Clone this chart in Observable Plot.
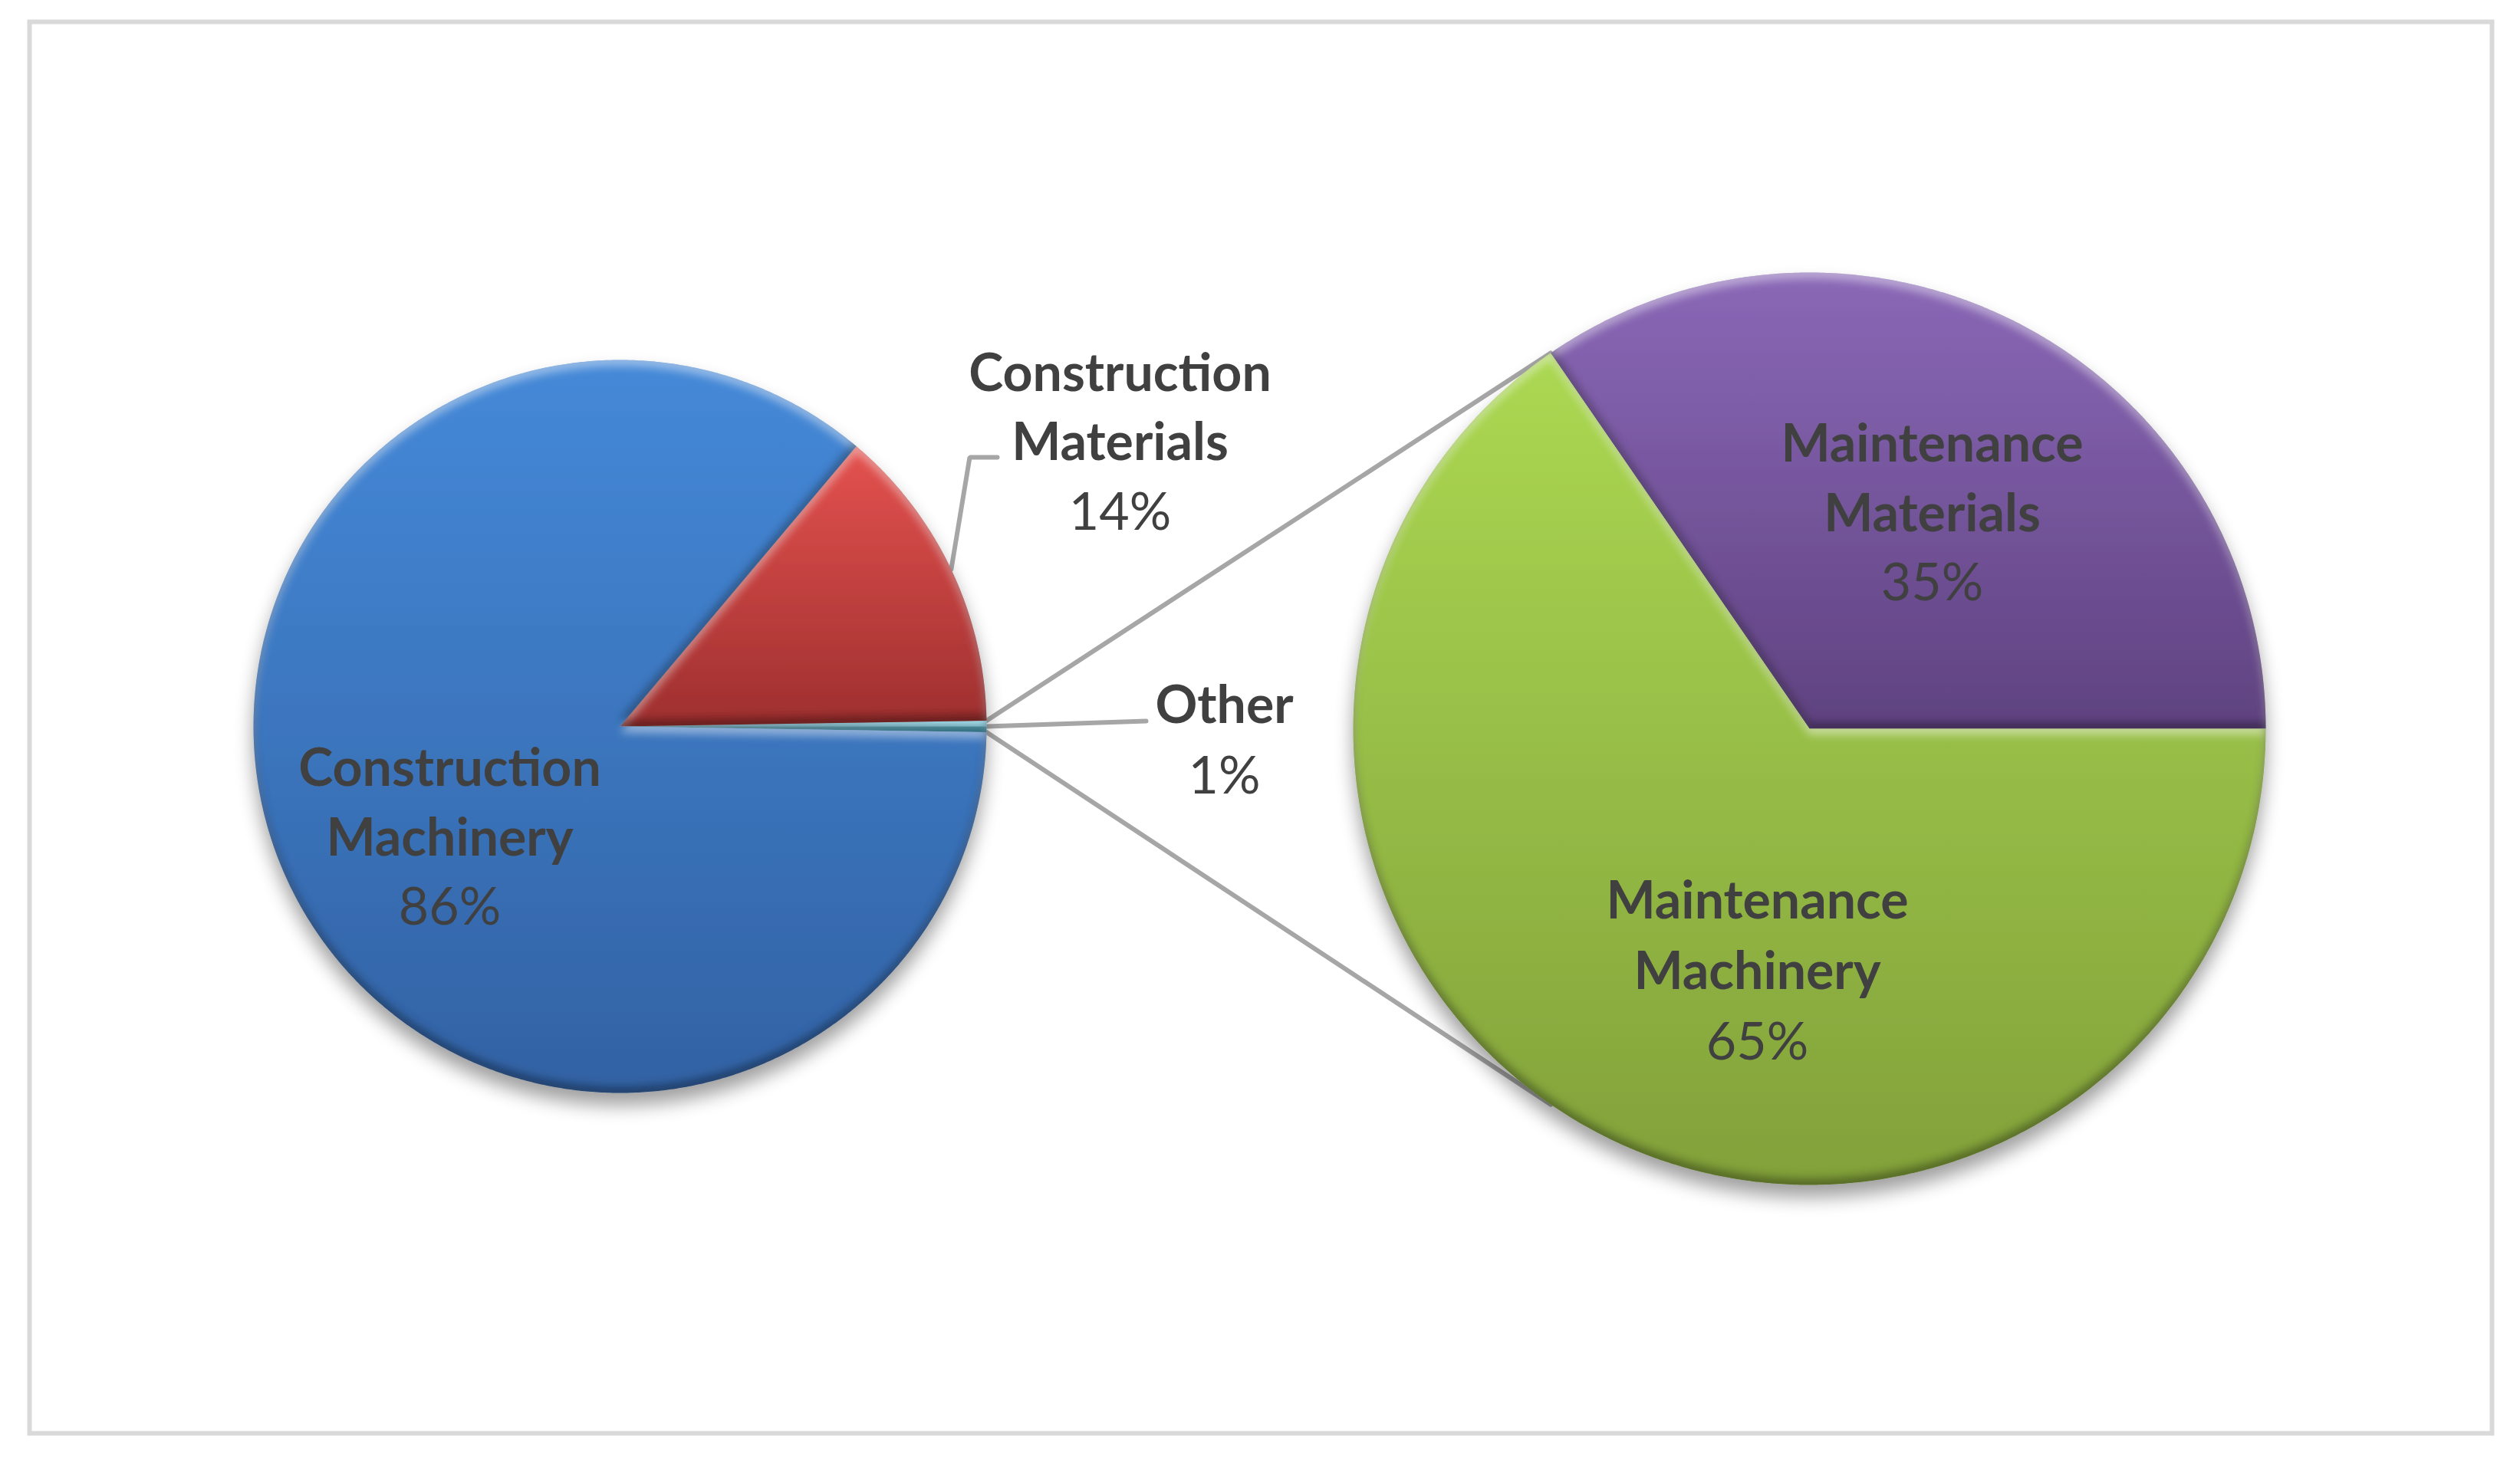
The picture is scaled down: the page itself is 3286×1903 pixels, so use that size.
<!DOCTYPE html>
<html>
<head>
<meta charset="utf-8">
<script src="https://cdn.jsdelivr.net/npm/d3@7"></script>
<script src="https://cdn.jsdelivr.net/npm/@observablehq/plot@0.6"></script>
<style>
  html, body { margin: 0; padding: 0; background: #ffffff; }
  #chart svg { display: block; }
</style>
</head>
<body>
<div id="chart"></div>
<script>
// ---------------- DATA ----------------
const primaryCategories = ["Construction Machinery", "Construction Materials", "Other"];
const primaryValues = [85.9, 13.6, 0.5];
const primaryLabels = ["86%", "14%", "1%"];
const secondaryCategories = ["Maintenance Materials", "Maintenance Machinery"];
const secondaryValues = [34.6, 65.4];
const secondaryLabels = ["35%", "65%"];

// ---------------- LAYOUT & STYLE ----------------
const W = 3286, H = 1903;
const M = {left: 38, right: 37, top: 28, bottom: 34};
const leftPie = {cx: 808, cy: 947, r: 478};
const rightPie = {cx: 2359, cy: 950, r: 595};
const baseColor = {
  "Construction Machinery": "#3e78c4",
  "Construction Materials": "#c43e3c",
  "Other": "#4bbcd8",
  "Maintenance Materials": "#7556a0",
  "Maintenance Machinery": "#98bf46"
};
const gradStops = {
  "Construction Machinery": ["#4589d8", "#3262a4"],
  "Construction Materials": ["#e4524f", "#9e2f2f"],
  "Other": ["#62d2ec", "#3aa3c2"],
  "Maintenance Materials": ["#8a68b7", "#5f4280"],
  "Maintenance Machinery": ["#abd852", "#82a13a"]
};
const gradId = name => "g-" + name.replace(/\s+/g, "-");
const labelLayout = {
  "Construction Machinery": {x: 586, y: [1024, 1115, 1205]},
  "Construction Materials": {x: 1460, y: [509, 599, 690]},
  "Other": {x: 1596, y: [942, 1034]},
  "Maintenance Materials": {x: 2519, y: [601, 692, 782]},
  "Maintenance Machinery": {x: 2291, y: [1197, 1289, 1381]}
};
const leaderLayout = {
  "Construction Materials": [[1264, 596], [1300, 596]],
  "Other": [[1494, 940]]
};
const FONT = "Lato, 'Open Sans', sans-serif";
const FS = 68;
const TEXT_COLOR = "#404040";
const LINE_COLOR = "#a6a6a6";

// ---------------- GEOMETRY FROM DATA ----------------
function slices(cats, vals, startDeg) {
  const total = d3.sum(vals);
  let a = startDeg;
  return cats.map((c, i) => {
    const a0 = a, a1 = a + vals[i] / total * 360;
    a = a1;
    return {name: c, value: vals[i], a0, a1, mid: (a0 + a1) / 2};
  });
}
function pt(p, deg, f = 1) {
  const t = deg * Math.PI / 180;
  return [p.cx + p.r * f * Math.cos(t), p.cy - p.r * f * Math.sin(t)];
}
function polygon(p, s) {
  const out = [{x: p.cx, y: p.cy}];
  const n = Math.max(2, Math.ceil((s.a1 - s.a0) / 0.4));
  for (let k = 0; k <= n; k++) {
    const [x, y] = pt(p, s.a0 + (s.a1 - s.a0) * k / n);
    out.push({x, y});
  }
  out.push({x: p.cx, y: p.cy});
  return out;
}

// left pie: "Other" centred on 3 o'clock, then counter-clockwise Materials, Machinery
const pTotal = d3.sum(primaryValues);
const otherDeg = primaryValues[2] / pTotal * 360;
const leftSlices = slices(primaryCategories.slice().reverse(), primaryValues.slice().reverse(), -otherDeg / 2);
const rightSlices = slices(secondaryCategories, secondaryValues, 0);

// connector lines between the pies
const other = leftSlices.find(s => s.name === "Other");
const split = rightSlices[0].a1;
const connectors = [];
{
  const [x0, y0] = pt(leftPie, other.a1), [x1, y1] = pt(rightPie, split);
  connectors.push({id: "top", x: x0, y: y0}, {id: "top", x: x1, y: y1});
  const [x2, y2] = pt(leftPie, other.a0), [x3, y3] = pt(rightPie, -split);
  connectors.push({id: "bot", x: x2, y: y2}, {id: "bot", x: x3, y: y3});
}
// leader lines from slice mid-angles
const leaders = [];
for (const name of Object.keys(leaderLayout)) {
  const s = leftSlices.find(d => d.name === name);
  const [x, y] = pt(leftPie, s.mid);
  leaders.push({id: name, x, y});
  for (const [lx, ly] of leaderLayout[name]) leaders.push({id: name, x: lx, y: ly});
}

// text rows
const nameRows = [], pctRows = [];
const allCats = primaryCategories.concat(secondaryCategories);
const allLabels = primaryLabels.concat(secondaryLabels);
allCats.forEach((c, i) => {
  const L = labelLayout[c];
  const words = c.split(" ");
  words.forEach((w, j) => nameRows.push({text: w, x: L.x, y: L.y[j]}));
  pctRows.push({text: allLabels[i], x: L.x, y: L.y[words.length]});
});

const sliceMarks = (pie, sl) => sl.map(s =>
  Plot.line(polygon(pie, s), {x: "x", y: "y", fill: baseColor[s.name], stroke: "none"}));

// ---------------- PLOT ----------------
const svg = Plot.plot({
  width: W, height: H,
  marginLeft: M.left, marginRight: M.right, marginTop: M.top, marginBottom: M.bottom,
  x: {domain: [M.left, W - M.right], range: [M.left, W - M.right], axis: null},
  y: {domain: [M.top, H - M.bottom], range: [M.top, H - M.bottom], axis: null},
  style: {background: "#ffffff"},
  marks: [
    Plot.frame({stroke: "#d9d9d9", strokeWidth: 6}),
    Plot.line(connectors, {x: "x", y: "y", z: "id", stroke: LINE_COLOR, strokeWidth: 6}),
    Plot.line(leaders, {x: "x", y: "y", z: "id", stroke: LINE_COLOR, strokeWidth: 6, strokeLinejoin: "miter"}),
    ...sliceMarks(leftPie, leftSlices),
    ...sliceMarks(rightPie, rightSlices),
    Plot.text(nameRows, {x: "x", y: "y", text: "text", lineAnchor: "bottom", fontSize: FS, fontWeight: "bold", fontFamily: FONT, fill: TEXT_COLOR}),
    Plot.text(pctRows, {x: "x", y: "y", text: "text", lineAnchor: "bottom", fontSize: FS, fontFamily: FONT, fill: TEXT_COLOR})
  ]
});

// ---------------- DEFS: gradients, bevel, shadow ----------------
const root = d3.select(svg);
const defs = root.insert("defs", ":first-child");
for (const [name, [c0, c1]] of Object.entries(gradStops)) {
  const g = defs.append("linearGradient").attr("id", gradId(name))
    .attr("x1", 0).attr("y1", 0).attr("x2", 0).attr("y2", 1);
  g.append("stop").attr("offset", "0%").attr("stop-color", c0);
  g.append("stop").attr("offset", "100%").attr("stop-color", c1);
}
{
  const f = defs.append("filter").attr("id", "bevel").attr("color-interpolation-filters", "sRGB")
    .attr("x", "-5%").attr("y", "-5%").attr("width", "110%").attr("height", "110%");
  f.append("feGaussianBlur").attr("in", "SourceAlpha").attr("stdDeviation", 6).attr("result", "b");
  f.append("feOffset").attr("in", "b").attr("dx", 0).attr("dy", 8).attr("result", "bDown");
  f.append("feComposite").attr("in", "SourceAlpha").attr("in2", "bDown").attr("operator", "out").attr("result", "topEdge");
  f.append("feFlood").attr("flood-color", "#ffffff").attr("flood-opacity", 0.45).attr("result", "white");
  f.append("feComposite").attr("in", "white").attr("in2", "topEdge").attr("operator", "in").attr("result", "hi");
  f.append("feOffset").attr("in", "b").attr("dx", 0).attr("dy", -8).attr("result", "bUp");
  f.append("feComposite").attr("in", "SourceAlpha").attr("in2", "bUp").attr("operator", "out").attr("result", "botEdge");
  f.append("feFlood").attr("flood-color", "#000000").attr("flood-opacity", 0.35).attr("result", "black");
  f.append("feComposite").attr("in", "black").attr("in2", "botEdge").attr("operator", "in").attr("result", "lo");
  const m = f.append("feMerge");
  m.append("feMergeNode").attr("in", "SourceGraphic");
  m.append("feMergeNode").attr("in", "hi");
  m.append("feMergeNode").attr("in", "lo");
}
{
  const f = defs.append("filter").attr("id", "shadow")
    .attr("x", "-10%").attr("y", "-10%").attr("width", "120%").attr("height", "130%");
  f.append("feGaussianBlur").attr("in", "SourceAlpha").attr("stdDeviation", 12).attr("result", "sb");
  f.append("feOffset").attr("in", "sb").attr("dx", 0).attr("dy", 16).attr("result", "so");
  f.append("feComponentTransfer").attr("in", "so").attr("result", "sf")
    .append("feFuncA").attr("type", "linear").attr("slope", 0.38);
  const m = f.append("feMerge");
  m.append("feMergeNode").attr("in", "sf");
  m.append("feMergeNode").attr("in", "SourceGraphic");
}
// group each pie's slice marks under one soft shadow; gradient + bevel per slice
for (const sl of [leftSlices, rightSlices]) {
  const groups = [];
  for (const s of sl) {
    const g = root.selectAll("g").filter(function() {
      return (this.getAttribute("fill") || "").toLowerCase() === baseColor[s.name];
    }).node();
    if (g) groups.push([g, s.name]);
  }
  if (!groups.length) continue;
  const wrap = document.createElementNS("http://www.w3.org/2000/svg", "g");
  wrap.setAttribute("filter", "url(#shadow)");
  groups[0][0].parentNode.insertBefore(wrap, groups[0][0]);
  for (const [g, name] of groups) {
    wrap.appendChild(g);
    g.setAttribute("fill", `url(#${gradId(name)})`);
    d3.select(g).selectAll("path").attr("filter", "url(#bevel)");
  }
}

document.getElementById("chart").appendChild(svg);
</script>
</body>
</html>
